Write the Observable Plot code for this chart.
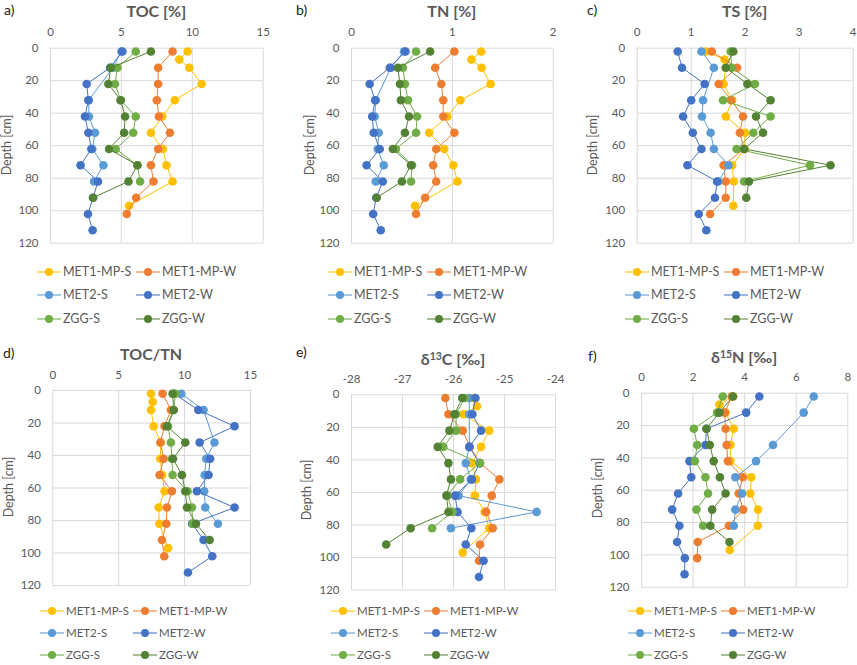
<!DOCTYPE html>
<html><head><meta charset="utf-8">
<script src="https://cdn.jsdelivr.net/npm/d3@7"></script>
<script src="https://cdn.jsdelivr.net/npm/@observablehq/plot@0.6"></script>
<style>
body{margin:0;background:#fff;}
#wrap{position:relative;width:857px;height:665px;overflow:hidden;font-family:Lato,"Open Sans",sans-serif;color:#595959;}
#wrap svg{position:absolute;left:0;top:0;}
.t{position:absolute;white-space:nowrap;transform:translate(-50%,-50%);line-height:1;}
.ttl{font-weight:bold;font-size:16px;color:#595959;}
.ttl sup{font-size:10.5px;vertical-align:5px;}
.let{font-size:14px;color:#222;transform:translate(0,-50%);}
.dep{font-size:12.5px;transform:translate(-50%,-50%) rotate(-90deg);}
.leg{position:absolute;color:#595959;white-space:nowrap;line-height:1;transform:translate(0,-50%);}
</style></head><body><div id="wrap"></div>
<script>
// ---------- series ----------
const names  = ["MET1-MP-S","MET1-MP-W","MET2-S","MET2-W","ZGG-S","ZGG-W"];
const colors = ["#FFC000","#ED7D31","#5B9BD5","#4472C4","#70AD47","#548235"];

// depths [cm] per series
const dMET1S = [2,7,12,22,32,42,52,62,72,82,97];
const dMET1W = [2,12,22,32,42,52,62,72,82,92,102];
const dMET2S = [2,12,32,42,52,62,72,82];
const dMET2W = [2,12,22,32,42,52,62,72,82,92,102,112];
const dZGGS  = [2,12,22,32,42,52,62,72,82];
const dZGGW  = [2,12,22,32,42,52,62,72,82,92];

// tick labels
const depthTicks = [0,20,40,60,80,100,120];
const tocTicks = [0,5,10,15];
const tnTicks = [0,1,2];
const tsTicks = [0,1,2,3,4];
const cnTicks = [0,5,10,15];
const c13Ticks = [-28,-27,-26,-25,-24];
const n15Ticks = [0,2,4,6,8];

// TOC [%]
const TOC_MET1S = [9.67,9.08,9.79,10.66,8.77,7.88,7.08,7.92,8.18,8.61,5.54];
const TOC_MET1W = [8.61,7.59,7.59,7.5,7.64,8.42,7.59,7.08,7.26,6.04,5.38];
const TOC_MET2S = [5.0,4.4,2.7,2.71,3.14,2.95,3.73,3.07];
const TOC_MET2W = [5.07,4.2,2.55,2.67,2.43,2.67,2.88,2.12,3.35,3.0,2.64,2.97];
const TOC_ZGGS  = [6.01,4.72,4.55,4.95,6.01,5.83,4.6,6.13,6.32];
const TOC_ZGGW  = [7.08,4.25,4.08,4.95,5.26,5.19,4.13,6.13,5.5,3.0];

// TN [%]
const TN_MET1S = [1.286,1.19,1.29,1.38,1.08,0.95,0.77,0.92,1.01,1.05,0.63];
const TN_MET1W = [1.02,0.83,0.89,0.91,0.91,1.02,0.84,0.81,0.84,0.73,0.64];
const TN_MET2S = [0.52,0.39,0.24,0.23,0.27,0.26,0.32,0.24];
const TN_MET2W = [0.535,0.38,0.18,0.235,0.205,0.22,0.28,0.15,0.31,0.245,0.215,0.29];
const TN_ZGGS  = [0.64,0.51,0.53,0.56,0.65,0.64,0.44,0.60,0.59];
const TN_ZGGW  = [0.78,0.46,0.48,0.49,0.57,0.53,0.41,0.59,0.50,0.25];

// TS [%]
const TS_MET1S = [1.27,1.62,1.64,1.6,1.76,1.64,2.0,1.99,1.76,1.79,1.78];
const TS_MET1W = [1.38,1.85,1.51,1.74,1.96,1.90,1.98,1.6,1.64,1.64,1.35];
const TS_MET2S = [1.19,1.42,1.22,1.2,1.36,1.42,1.69,1.5];
const TS_MET2W = [0.75,0.83,1.25,1.0,0.85,1.03,1.19,0.93,1.48,1.44,1.14,1.28];
const TS_ZGGS  = [1.73,1.75,2.18,1.59,2.47,2.15,1.84,3.2,1.98];
const TS_ZGGW  = [1.78,1.64,2.04,2.47,2.2,2.33,1.98,3.58,2.07,2.02];

// TOC/TN
const CN_MET1S = [7.45,7.58,7.45,7.65,8.2,8.16,8.3,8.48,8.03,8.08,8.74];
const CN_MET1W = [8.33,8.96,8.48,8.16,8.41,8.1,9.04,8.66,8.61,8.28,8.46];
const CN_MET2S = [9.75,11.44,12.27,11.64,11.52,11.49,11.57,12.53];
const CN_MET2W = [9.2,11.04,13.79,11.14,11.94,11.82,10.93,13.79,10.56,11.44,12.1,10.25];
const CN_ZGGS  = [9.3,9.17,8.74,8.96,9.04,9.09,10.23,10.56,10.6];
const CN_ZGGW  = [9.09,9.17,8.66,10.05,9.12,9.8,10.05,10.18,10.86,11.9];

// d13C [permil]
const C13_MET1S = [-25.62,-25.54,-25.8,-25.3,-25.46,-25.64,-25.56,-25.58,-25.39,-25.3,-25.82];
const C13_MET1W = [-26.16,-26.1,-25.82,-25.68,-25.48,-25.1,-25.25,-25.36,-25.23,-25.48,-25.5];
const C13_MET2S = [-25.69,-25.69,-25.69,-25.76,-25.66,-25.9,-24.37,-26.05];
const C13_MET2W = [-25.57,-25.63,-25.46,-25.69,-25.49,-25.64,-25.97,-25.92,-25.65,-25.76,-25.41,-25.5];
const C13_ZGGS  = [-25.78,-25.95,-25.95,-26.2,-25.48,-25.87,-26.12,-26.02,-26.42];
const C13_ZGGW  = [-25.83,-25.98,-26.08,-26.31,-26.1,-26.05,-26.14,-26.1,-26.84,-27.32];

// d15N [permil]
const N15_MET1S = [3.55,3.02,3.26,3.58,3.45,3.45,4.26,4.22,4.52,4.51,3.42];
const N15_MET1W = [3.5,3.23,3.26,3.3,3.35,3.93,3.77,3.94,3.39,2.18,2.16];
const N15_MET2S = [6.68,6.29,5.1,4.44,3.64,3.9,3.64,3.58];
const N15_MET2W = [4.57,4.06,2.52,2.48,1.86,1.93,1.42,1.19,1.47,1.38,1.68,1.67];
const N15_ZGGS  = [3.15,2.93,2.03,2.16,2.07,2.48,2.58,2.13,2.39];
const N15_ZGGW  = [3.55,3.02,2.52,2.65,2.8,3.04,3.26,2.74,2.67,3.41];

const depths = [dMET1S,dMET1W,dMET2S,dMET2W,dZGGS,dZGGW];

// ---------- layout ----------
const W = 857, H = 665;
const topLeg = {c1:37, c2:136, gap:26, dy:23.5, fs:12.5};
const botLeg = {c1:40, c2:133, gap:26, dy:22.2, fs:11.5};
const panels = [
  {letter:"a)", title:"TOC [%]", ticks:tocTicks, vals:[TOC_MET1S,TOC_MET1W,TOC_MET2S,TOC_MET2W,TOC_ZGGS,TOC_ZGGW],
   box:[50,262.7,47.7,242.7], lx:4, ly:10, ty:10.7, dx:7, dy:145, px:0, legY:271.5, leg:topLeg},
  {letter:"b)", title:"TN [%]", ticks:tnTicks, vals:[TN_MET1S,TN_MET1W,TN_MET2S,TN_MET2W,TN_ZGGS,TN_ZGGW],
   box:[351,552.7,47.7,242.7], lx:296, ly:10, ty:10.7, dx:310, dy:145, px:291, legY:271.5, leg:topLeg},
  {letter:"c)", title:"TS [%]", ticks:tsTicks, vals:[TS_MET1S,TS_MET1W,TS_MET2S,TS_MET2W,TS_ZGGS,TS_ZGGW],
   box:[636.7,852.7,47.7,242.7], lx:587, ly:10, ty:10.7, dx:593, dy:145, px:588, legY:271.5, leg:topLeg},
  {letter:"d)", title:"TOC/TN", ticks:cnTicks, vals:[CN_MET1S,CN_MET1W,CN_MET2S,CN_MET2W,CN_ZGGS,CN_ZGGW],
   box:[52.3,250,390,585], lx:3, ly:353, ty:353.5, dx:9, dy:487, px:0, legY:610.7, leg:botLeg},
  {letter:"e)", title:"δ<sup>13</sup>C [‰]", ticks:c13Ticks, vals:[C13_MET1S,C13_MET1W,C13_MET2S,C13_MET2W,C13_ZGGS,C13_ZGGW],
   box:[351,555,394.3,589.5], lx:296, ly:352, ty:359, dx:307, dy:490, px:291, legY:610.7, leg:botLeg},
  {letter:"f)", title:"δ<sup>15</sup>N [‰]", ticks:n15Ticks, vals:[N15_MET1S,N15_MET1W,N15_MET2S,N15_MET2W,N15_ZGGS,N15_ZGGW],
   box:[641,847.3,392.7,586.7], lx:588, ly:356, ty:357, dx:598, dy:488, px:588, legY:610.7, leg:botLeg}
];

const wrap = document.getElementById("wrap");
function addDiv(cls, html, x, y){
  const d = document.createElement("div");
  d.className = cls; d.innerHTML = html;
  d.style.left = x + "px"; d.style.top = y + "px";
  wrap.appendChild(d); return d;
}
const fmt = d => String(d);

for (const p of panels) {
  const [l, r, t, b] = p.box;
  const marks = [
    Plot.ruleX(p.ticks, {stroke:"#d9d9d9", strokeWidth:1}),
    Plot.ruleY(depthTicks, {stroke:"#d9d9d9", strokeWidth:1})
  ];
  names.forEach((n, i) => {
    const rows = depths[i].map((d, k) => ({depth:d, value:p.vals[i][k]}));
    marks.push(Plot.line(rows, {x:"value", y:"depth", stroke:colors[i], strokeWidth:1}));
    marks.push(Plot.dot(rows, {x:"value", y:"depth", fill:colors[i], r:4.3}));
  });
  const chart = Plot.plot({
    width:W, height:H,
    marginLeft:l, marginRight:W - r, marginTop:t, marginBottom:H - b,
    x:{domain:[p.ticks[0], p.ticks[p.ticks.length-1]], ticks:p.ticks, tickFormat:fmt, axis:"top", tickSize:0, tickPadding:12, label:null},
    y:{domain:[0,120], reverse:true, ticks:depthTicks, tickFormat:fmt, tickSize:0, tickPadding:12, label:null},
    style:{background:"transparent", fontFamily:"Lato, 'Open Sans', sans-serif", fontSize:"11.5px", color:"#595959", overflow:"visible"},
    marks
  });
  wrap.appendChild(chart);

  addDiv("t let", p.letter, p.lx, p.ly);
  addDiv("t ttl", p.title, (l + r) / 2, p.ty);
  addDiv("t dep", "Depth [cm]", p.dx, p.dy);

  // legend: 3 rows x 2 columns
  const L = p.leg;
  names.forEach((n, i) => {
    const col = i % 2, row = Math.floor(i / 2);
    const x0 = p.px + (col === 0 ? L.c1 : L.c2);
    const y0 = p.legY + row * L.dy;
    const sw = document.createElementNS("http://www.w3.org/2000/svg","svg");
    sw.setAttribute("width", 24); sw.setAttribute("height", 10);
    sw.style.left = x0 + "px"; sw.style.top = (y0 - 5) + "px";
    sw.innerHTML = `<line x1="0" y1="5" x2="24" y2="5" stroke="${colors[i]}" stroke-width="1.4" stroke-opacity="0.75"/><circle cx="12" cy="5" r="4" fill="${colors[i]}"/>`;
    wrap.appendChild(sw);
    const d = addDiv("leg", n, x0 + L.gap, y0);
    d.style.fontSize = L.fs + "px";
  });
}
</script></body></html>
